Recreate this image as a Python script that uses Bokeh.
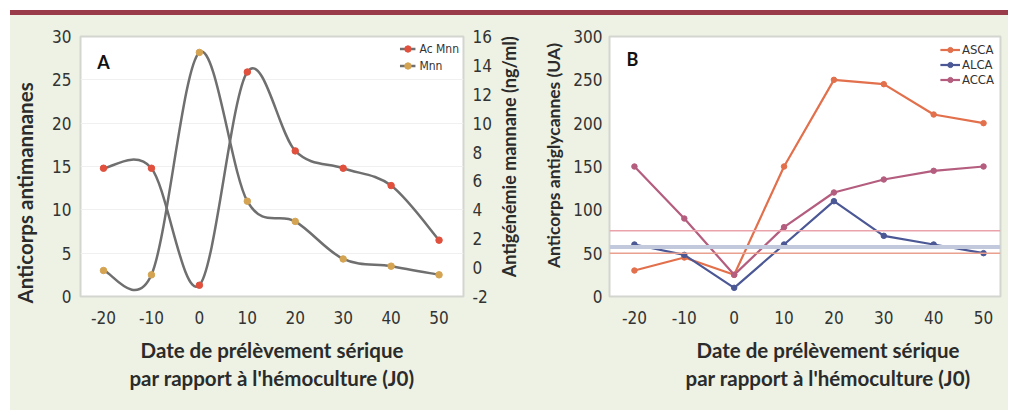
import math
from bokeh.plotting import figure
from bokeh.models import (Range1d, LinearAxis, Span, Label, Legend, LegendItem,
                          FixedTicker, ColumnDataSource, Div)
from bokeh.layouts import row, column
from bokeh.embed import file_html
from bokeh.resources import INLINE

# ---------------- data ----------------
days = [-20, -10, 0, 10, 20, 30, 40, 50]
ac_mnn = [14.8, 14.8, 1.3, 25.9, 16.8, 14.8, 12.8, 6.5]      # left axis (panel A)
mnn = [-0.2, -0.5, 14.9, 4.6, 3.2, 0.6, 0.1, -0.5]            # right axis (panel A)
asca = [30, 45, 25, 150, 250, 245, 210, 200]
alca = [60, 48, 10, 60, 110, 70, 60, 50]
acca = [150, 90, 25, 80, 120, 135, 145, 150]
acca_thr = 76
alca_thr = 57
asca_thr = 50

x_ticks = [-20, -10, 0, 10, 20, 30, 40, 50]
a_left_ticks = [0, 5, 10, 15, 20, 25, 30]
a_right_ticks = [-2, 0, 2, 4, 6, 8, 10, 12, 14, 16]
b_ticks = [0, 50, 100, 150, 200, 250, 300]
neg_labels = {-20: "-20", -10: "-10", -2: "-2"}

x_title_lines = ["Date de prélèvement sérique", "par rapport à l'hémoculture (J0)"]
a_left_title = "Anticorps antimannanes"
a_right_title = "Antigénémie mannane (ng/ml)"
b_left_title = "Anticorps antiglycannes (UA)"

# ---------------- styles ----------------
GREEN = "#edf2e4"
BAND = "#9a3b4a"
TICK_FONT = "DejaVu Sans Condensed"
TITLE_FONT = "Lato"
GRAY = "#6f6f6f"
RED = "#e0503c"
ORANGE = "#d4a452"
C_ASCA = "#e2704c"
C_ALCA = "#4b5895"
C_ACCA = "#b45d7e"
EM = "\u2003"   # invisible em spaces used to nudge titles along their axis
EN = "\u2002"
QU = "\u2005"


def style_axis(ax, ticks, standoff):
    ax.ticker = FixedTicker(ticks=ticks)
    ax.major_label_overrides = {k: v for k, v in neg_labels.items() if k in ticks}
    ax.axis_line_color = None
    ax.major_tick_line_color = None
    ax.minor_tick_line_color = None
    ax.major_tick_out = 0
    ax.major_tick_in = 0
    ax.minor_tick_out = 0
    ax.major_label_text_font = TICK_FONT
    ax.major_label_text_font_size = "17px"
    ax.major_label_text_color = "#333333"
    ax.major_label_standoff = standoff
    ax.axis_label_text_font = TITLE_FONT
    ax.axis_label_text_font_style = "bold"
    ax.axis_label_text_font_size = "20.5px"
    ax.axis_label_text_color = "#2b2b2b"
    ax.axis_label_text_line_height = 1.2


def smooth_source(xs, ys):
    n = len(xs)
    d = {k: [] for k in ("x0", "y0", "x1", "y1", "cx0", "cy0", "cx1", "cy1")}
    for i in range(n - 1):
        xp, yp = (xs[i - 1], ys[i - 1]) if i > 0 else (xs[i], ys[i])
        xn, yn = (xs[i + 2], ys[i + 2]) if i + 2 < n else (xs[i + 1], ys[i + 1])
        d["x0"].append(xs[i]); d["y0"].append(ys[i])
        d["x1"].append(xs[i + 1]); d["y1"].append(ys[i + 1])
        d["cx0"].append(xs[i] + (xs[i + 1] - xp) / 6)
        d["cy0"].append(ys[i] + (ys[i + 1] - yp) / 6)
        d["cx1"].append(xs[i + 1] - (xn - xs[i]) / 6)
        d["cy1"].append(ys[i + 1] - (yn - ys[i]) / 6)
    return ColumnDataSource(d)


# ---------------- panel A ----------------
pa = figure(width=484, height=395, x_range=Range1d(-24.8, 55.1), y_range=Range1d(0, 30),
            output_backend="svg", toolbar_location=None,
            min_border_left=69, min_border_right=31, min_border_top=21, min_border_bottom=114,
            background_fill_color="white", border_fill_color=GREEN,
            outline_line_color="#d3d6cf", outline_line_width=2)
pa.extra_y_ranges = {"right": Range1d(-2, 16)}
style_axis(pa.xaxis[0], x_ticks, 14)
style_axis(pa.yaxis[0], a_left_ticks, 9)
pa.xaxis[0].axis_label = "\n".join(x_title_lines)
pa.xaxis[0].axis_label_standoff = 11
pa.yaxis[0].axis_label = a_left_title + EM * 3 + "\u2004"
pa.yaxis[0].axis_label_standoff = 12
ax_r = LinearAxis(y_range_name="right")
style_axis(ax_r, a_right_ticks, 9)
pa.add_layout(ax_r, "right")
pa.xgrid.grid_line_color = None
pa.ygrid.grid_line_color = "#f0f0f0"

r_ac_line = pa.bezier(x0="x0", y0="y0", x1="x1", y1="y1", cx0="cx0", cy0="cy0",
                      cx1="cx1", cy1="cy1", source=smooth_source(days, ac_mnn),
                      line_color=GRAY, line_width=2.5)
r_mnn_line = pa.bezier(x0="x0", y0="y0", x1="x1", y1="y1", cx0="cx0", cy0="cy0",
                       cx1="cx1", cy1="cy1", source=smooth_source(days, mnn),
                       line_color=GRAY, line_width=2.5, y_range_name="right")
r_ac_pts = pa.scatter(days, ac_mnn, size=6.5, color=RED)
r_mnn_pts = pa.scatter(days, mnn, size=6.5, color=ORANGE, y_range_name="right")

leg_a = Legend(items=[LegendItem(label="Ac Mnn", renderers=[r_ac_line, r_ac_pts]),
                      LegendItem(label="Mnn", renderers=[r_mnn_line, r_mnn_pts])],
               location="top_right", margin=4, padding=0, spacing=0,
               glyph_width=16, glyph_height=17, label_height=17, label_standoff=4,
               label_text_font=TICK_FONT, label_text_font_size="12px",
               label_text_color="#333333",
               background_fill_alpha=0, border_line_color=None)
pa.add_layout(leg_a)
pa.add_layout(Label(x=-20, y=27.1, text="A", text_font=TITLE_FONT, text_font_style="bold",
                    text_font_size="18px", text_align="center", text_baseline="middle",
                    text_color="#111111"))

# ---------------- panel B ----------------
pb = figure(width=514, height=395, x_range=Range1d(-25, 53.4), y_range=Range1d(0, 300),
            output_backend="svg", toolbar_location=None,
            min_border_left=111, min_border_right=8, min_border_top=21, min_border_bottom=114,
            background_fill_color="white", border_fill_color=GREEN,
            outline_line_color="#d3d6cf", outline_line_width=2)
style_axis(pb.xaxis[0], x_ticks, 14)
style_axis(pb.yaxis[0], b_ticks, 7)
pb.xaxis[0].axis_label = "\n".join(EM * 3 + s for s in x_title_lines)
pb.xaxis[0].axis_label_standoff = 11
pb.yaxis[0].axis_label = EM + EN + b_left_title
pb.yaxis[0].axis_label_standoff = 6
pb.yaxis[0].axis_label_text_font_size = "17.5px"
pb.xgrid.grid_line_color = None
pb.ygrid.grid_line_color = None

# title of panel A's right-hand axis (reads bottom-to-top, sits just right of A's tick labels)
ax_a_title = LinearAxis(axis_label=EM + "\u2004" + a_right_title)
style_axis(ax_a_title, [], 0)
ax_a_title.axis_label_text_font_size = "18px"
ax_a_title.axis_label_standoff = 21
pb.add_layout(ax_a_title, "left")

pb.add_layout(Span(location=acca_thr, dimension="width", line_color="#eaa3ab", line_width=1.5))
pb.add_layout(Span(location=alca_thr, dimension="width", line_color="#c3c9dd", line_width=4))
pb.add_layout(Span(location=asca_thr, dimension="width", line_color="#eaa08e", line_width=1.5))

for name, vals, col in (("ASCA", asca, C_ASCA), ("ALCA", alca, C_ALCA), ("ACCA", acca, C_ACCA)):
    pb.line(days, vals, line_color=col, line_width=2.2, legend_label=name)
    pb.scatter(days, vals, size=5.5, color=col, legend_label=name)

lb = pb.legend[0]
lb.location = "top_right"
lb.margin = 6
lb.padding = 0
lb.spacing = 0
lb.glyph_width = 20
lb.glyph_height = 13
lb.label_height = 13
lb.label_standoff = 2
lb.label_text_font = TICK_FONT
lb.label_text_font_size = "13px"
lb.label_text_color = "#333333"
lb.background_fill_alpha = 0
lb.border_line_color = None
pb.add_layout(Label(x=-20.4, y=274, text="B", text_font=TITLE_FONT, text_font_style="bold",
                    text_font_size="18px", text_align="center", text_baseline="middle",
                    text_color="#111111"))

band = Div(text="", width=998, height=5, margin=(10, 0, 0, 10),
           styles={"background-color": BAND})
panels = row(pa, pb, spacing=0, margin=(0, 0, 0, 10),
             styles={"background-color": GREEN})
layout = column(band, panels, spacing=0)

open("out.html", "w").write(file_html(layout, INLINE, "chart"))
